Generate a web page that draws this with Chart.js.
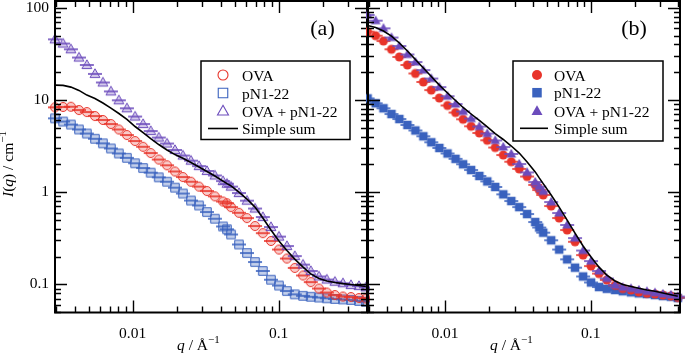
<!DOCTYPE html>
<html>
<head>
<meta charset="utf-8">
<script src="https://cdn.jsdelivr.net/npm/chart.js@4.4.0/dist/chart.umd.min.js"></script>
<style>
  body { margin: 0; background: #fff; }
  #wrap { position: relative; width: 685px; height: 353px; overflow: hidden; background: #fff; }
  canvas { position: absolute; top: 0; }
  #chartA { left: 0; }
  #chartB { left: 366px; }
</style>
</head>
<body>
<div id="wrap">
  <canvas id="chartA" width="370" height="353"></canvas>
  <canvas id="chartB" width="319" height="353"></canvas>
</div>
<script>
// scattering vector q (1/Angstrom)
const q = [0.00294, 0.00334, 0.00378, 0.00429, 0.00486, 0.00552, 0.00626, 0.0071, 0.00805, 0.00914,
  0.0104, 0.0118, 0.0133, 0.0151, 0.0172, 0.0195, 0.0221, 0.0251, 0.0285, 0.0323,
  0.0366, 0.0416, 0.0443, 0.0472, 0.0535, 0.0607, 0.0689, 0.078, 0.0886, 0.1005,
  0.114, 0.129, 0.147, 0.166, 0.189, 0.214, 0.243, 0.276, 0.313, 0.355, 0.396];

// panel (a)
const ovaA = [8.33, 8.40, 8.46, 7.79, 7.41, 6.70, 6.07, 5.49, 4.79, 4.17,
  3.59, 3.11, 2.66, 2.26, 1.96, 1.68, 1.46, 1.30, 1.15, 1.03,
  0.902, 0.792, 0.758, 0.690, 0.598, 0.524, 0.430, 0.360, 0.296, 0.239,
  0.191, 0.151, 0.125, 0.106, 0.0903, 0.0817, 0.0767, 0.0739, 0.0730, 0.0712, 0.0703];
const pnA = [6.33, 5.84, 5.42, 4.79, 4.33, 3.80, 3.39, 2.98, 2.63, 2.36,
  2.06, 1.83, 1.63, 1.45, 1.30, 1.12, 0.968, 0.813, 0.718, 0.610,
  0.516, 0.425, 0.396, 0.348, 0.271, 0.219, 0.175, 0.140, 0.1125, 0.0973,
  0.0848, 0.0781, 0.0752, 0.0734, 0.0721, 0.0707, 0.0695, 0.0688, 0.0678, 0.0661, 0.0649];
const mixA = [45.5, 41.0, 35.5, 28.9, 24.0, 19.2, 15.5, 12.4, 9.93, 8.13,
  6.62, 5.49, 4.61, 3.92, 3.37, 2.87, 2.50, 2.20, 1.92, 1.70,
  1.52, 1.32, 1.236, 1.15, 0.98, 0.81, 0.665, 0.538, 0.419, 0.330,
  0.261, 0.203, 0.164, 0.140, 0.122, 0.113, 0.107, 0.103, 0.0985, 0.0961, 0.093];
const sumA = [14.5, 14.4, 13.8, 12.7, 11.3, 10.4, 9.27, 8.18, 7.14, 6.15,
  5.16, 4.44, 3.82, 3.29, 2.87, 2.56, 2.33, 2.10, 1.88, 1.68,
  1.50, 1.32, 1.24, 1.17, 1.00, 0.843, 0.690, 0.525, 0.389, 0.296,
  0.233, 0.188, 0.154, 0.130, 0.116, 0.109, 0.105, 0.102, 0.0998, 0.0973, 0.0949];

// panel (b)
const ovaB = [55.1, 49.8, 43.6, 35.5, 29.3, 24.0, 19.4, 15.7, 12.8, 10.5,
  8.72, 7.31, 6.18, 5.19, 4.39, 3.66, 3.05, 2.53, 2.14, 1.79,
  1.48, 1.20, 1.056, 0.933, 0.708, 0.525, 0.389, 0.290, 0.208, 0.158,
  0.131, 0.112, 0.0978, 0.0903, 0.0870, 0.0827, 0.0800, 0.0787, 0.0767, 0.0748, 0.0721];
const pnB = [10.4, 9.21, 8.13, 7.05, 6.22, 5.36, 4.67, 4.04, 3.48, 3.02,
  2.63, 2.30, 2.01, 1.74, 1.50, 1.31, 1.14, 0.948, 0.802, 0.690,
  0.580, 0.475, 0.414, 0.364, 0.301, 0.239, 0.187, 0.152, 0.122, 0.105,
  0.0937, 0.0897, 0.0870, 0.0844, 0.0820, 0.0800, 0.0787, 0.0767, 0.0748, 0.0736, 0.0712];
const mixB = [83.6, 72.5, 59.9, 47.6, 38.5, 31.2, 25.8, 21.1, 17.1, 13.8,
  11.0, 9.05, 7.51, 6.30, 5.16, 4.33, 3.64, 3.09, 2.60, 2.02,
  1.64, 1.29, 1.15, 1.02, 0.783, 0.595, 0.441, 0.318, 0.233, 0.179,
  0.140, 0.116, 0.0985, 0.093, 0.0903, 0.0870, 0.0838, 0.0813, 0.0787, 0.0767, 0.0739];
const sumB = [64.3, 61.1, 56.0, 49.4, 41.5, 34.0, 27.5, 22.2, 18.0, 14.5,
  11.9, 9.88, 8.30, 7.05, 6.00, 5.10, 4.33, 3.73, 3.17, 2.66,
  2.13, 1.66, 1.43, 1.24, 0.933, 0.690, 0.499, 0.360, 0.261, 0.198,
  0.154, 0.126, 0.109, 0.0998, 0.0949, 0.0907, 0.0870, 0.0842, 0.0807, 0.0773, 0.0743];

const seriesNames = ['OVA', 'pN1-22', 'OVA + pN1-22', 'Simple sum'];
const xTickLabels = [0.01, 0.1];
const yTickLabels = [0.1, 1, 10, 100];

const FONT = "'Liberation Serif', 'Times New Roman', serif";
const RED = '#e8342a', BLUE = '#3a62be', PURPLE = '#6c4cbc';
const PALE = { [RED]: 'rgba(232,52,42,0.25)', [BLUE]: 'rgba(58,98,190,0.3)', [PURPLE]: 'rgba(108,76,188,0.3)' };

function shapePath(g, shape, cx, cy, r) {
  g.beginPath();
  if (shape === 'circle') {
    g.arc(cx, cy, r, 0, Math.PI * 2);
  } else if (shape === 'square') {
    g.rect(cx - r * 0.95, cy - r * 0.95, r * 1.9, r * 1.9);
  } else {
    g.moveTo(cx, cy - r * 1.15);
    g.lineTo(cx + r * 1.1, cy + r * 0.8);
    g.lineTo(cx - r * 1.1, cy + r * 0.8);
    g.closePath();
  }
}

// marker with horizontal error bar
function marker(shape, color, filled) {
  const c = document.createElement('canvas');
  c.width = 18; c.height = 14;
  const g = c.getContext('2d');
  shapePath(g, shape, 9, 7, 4.5);
  if (filled) {
    g.fillStyle = color; g.fill();
  } else {
    g.fillStyle = PALE[color]; g.fill();
    g.strokeStyle = color; g.lineWidth = 1; g.stroke();
  }
  g.strokeStyle = color; g.lineWidth = 1.6;
  g.beginPath(); g.moveTo(2, 7); g.lineTo(16, 7); g.stroke();
  return c;
}

const pts = vals => q.map((v, i) => ({ x: v, y: vals[i] }));

function makeDatasets(ova, pn, mix, sum, filled) {
  const sc = (label, vals, shape, color, order) => ({
    label, data: pts(vals), shape, color, order, clip: false,
    pointStyle: marker(shape, color, filled), pointRadius: 5, showLine: false
  });
  return [
    sc(seriesNames[0], ova, 'circle', RED, 3),
    sc(seriesNames[1], pn, 'square', BLUE, 4),
    sc(seriesNames[2], mix, 'triangle', PURPLE, 2),
    { label: seriesNames[3], data: pts(sum), shape: 'line', color: '#000', order: 1,
      showLine: true, pointRadius: 0, borderColor: '#000', borderWidth: 1.6, clip: false }
  ];
}

function logTicks(min, max) {
  const out = [];
  for (let e = Math.floor(Math.log10(min)); e <= Math.ceil(Math.log10(max)); e++) {
    for (let m = 1; m <= 9; m++) {
      const v = m * Math.pow(10, e);
      if (v >= min * 0.999 && v <= max * 1.001) out.push([v, m === 1]);
    }
  }
  return out;
}

const framePlugin = {
  id: 'frame',
  afterDraw(chart) {
    const { ctx, chartArea: a, scales: { x, y } } = chart;
    ctx.save();
    ctx.strokeStyle = '#000';
    ctx.lineWidth = 1.4;
    ctx.beginPath();
    for (const [v, major] of logTicks(x.min, x.max)) {
      const px = Math.round(x.getPixelForValue(v)) + 0.5, len = major ? 12 : 6;
      ctx.moveTo(px, a.bottom); ctx.lineTo(px, a.bottom - len);
      ctx.moveTo(px, a.top); ctx.lineTo(px, a.top + len);
    }
    for (const [v, major] of logTicks(y.min, y.max)) {
      const py = Math.round(y.getPixelForValue(v)) + 0.5, len = major ? 12 : 6;
      ctx.moveTo(a.left, py); ctx.lineTo(a.left + len, py);
      ctx.moveTo(a.right, py); ctx.lineTo(a.right - len, py);
    }
    ctx.stroke();
    ctx.lineWidth = 2;
    ctx.strokeRect(a.left, a.top, a.right - a.left, a.bottom - a.top);
    ctx.restore();
  }
};

function richText(ctx, parts, x, y) {
  let cx = x;
  for (const p of parts) {
    ctx.font = (p.it ? 'italic ' : '') + (p.sup ? '11px ' : '15.5px ') + FONT;
    ctx.fillText(p.t, cx, y - (p.sup ? 7 : 0));
    cx += ctx.measureText(p.t).width;
  }
}

const annotPlugin = {
  id: 'annot',
  afterDraw(chart, args, o) {
    const ctx = chart.ctx;
    ctx.save();
    ctx.fillStyle = '#000';
    ctx.textBaseline = 'alphabetic';
    ctx.textAlign = 'left';
    // x title
    richText(ctx, [{ t: 'q', it: true }, { t: ' / Å' }, { t: '−1', sup: true }], o.xTitleX, 350);
    // y title
    if (o.yTitle) {
      ctx.save();
      ctx.translate(13, 197);
      ctx.rotate(-Math.PI / 2);
      richText(ctx, [{ t: 'I', it: true }, { t: '(' }, { t: 'q', it: true }, { t: ') / cm' }, { t: '−1', sup: true }], 0, 0);
      ctx.restore();
    }
    // panel label
    ctx.font = '22px ' + FONT;
    ctx.textAlign = 'center';
    ctx.fillText(o.tag, o.tagX, 35);
    // legend box
    const L = o.legend;
    ctx.lineWidth = 1.5;
    ctx.strokeStyle = '#000';
    ctx.strokeRect(L.x, L.y, L.w, L.h);
    ctx.textAlign = 'left';
    chart.data.datasets.forEach((ds, i) => {
      const ry = L.rows[i];
      if (ds.shape === 'line') {
        ctx.strokeStyle = '#000'; ctx.lineWidth = 1.6;
        ctx.beginPath(); ctx.moveTo(L.lineX0, ry); ctx.lineTo(L.lineX1, ry); ctx.stroke();
      } else {
        shapePath(ctx, ds.shape, L.mx, ry, 5);
        if (o.filled) { ctx.fillStyle = ds.color; ctx.fill(); }
        else { ctx.strokeStyle = ds.color; ctx.lineWidth = 1.1; ctx.stroke(); }
      }
      ctx.fillStyle = '#000';
      ctx.font = '15.5px ' + FONT;
      ctx.fillText(ds.label, L.tx, ry + 5.5);
    });
    ctx.restore();
  }
};

function tickCb(list) {
  return function (v) {
    const hit = list.find(t => Math.abs(v - t) / t < 1e-6);
    return hit === undefined ? null : String(hit);
  };
}

// fixed axis sizes, no label overflow padding
function fixSize(w, h) {
  return s => {
    if (w !== null) s.width = w;
    if (h !== null) s.height = h;
    s.paddingTop = s.paddingBottom = s.paddingLeft = s.paddingRight = 0;
  };
}

function buildChart(id, ds, cfg) {
  return new Chart(document.getElementById(id), {
    type: 'scatter',
    data: { datasets: ds },
    plugins: [framePlugin, annotPlugin],
    options: {
      responsive: false,
      animation: false,
      events: [],
      layout: { padding: cfg.padding, autoPadding: false },
      scales: {
        x: {
          type: 'logarithmic', min: cfg.xmin, max: cfg.xmax,
          grid: { display: false, drawTicks: false }, border: { display: false },
          ticks: { autoSkip: false, maxRotation: 0, padding: 12, color: '#000',
                   font: { family: FONT, size: 15.5 }, callback: tickCb(xTickLabels) },
          afterFit: fixSize(null, 40.5)
        },
        y: {
          type: 'logarithmic', min: 0.0496, max: 118.5, display: cfg.showY,
          grid: { display: false, drawTicks: false }, border: { display: false },
          ticks: { autoSkip: false, padding: 6, color: '#000',
                   font: { family: FONT, size: 15.5 }, callback: tickCb(yTickLabels) },
          afterFit: fixSize(cfg.yWidth, null)
        }
      },
      plugins: {
        legend: { display: false },
        tooltip: { enabled: false },
        annot: cfg.annot
      }
    }
  });
}

buildChart('chartA', makeDatasets(ovaA, pnA, mixA, sumA, false), {
  padding: { left: 0, right: 3, top: 1, bottom: 0 },
  xmin: 0.00294, xmax: 0.403, showY: true, yWidth: 55,
  annot: {
    xTitleX: 177, yTitle: true, tag: '(a)', tagX: 322.5, filled: false,
    legend: { x: 201, y: 61, w: 149, h: 78.5, rows: [75, 93, 111, 128.5], mx: 223, lineX0: 208, lineX1: 238, tx: 242 }
  }
});

buildChart('chartB', makeDatasets(ovaB, pnB, mixB, sumB, true), {
  padding: { left: 2, right: 5, top: 1, bottom: 0 },
  xmin: 0.00296, xmax: 0.41, showY: false, yWidth: 0,
  annot: {
    xTitleX: 490 - 366, yTitle: false, tag: '(b)', tagX: 634 - 366, filled: true,
    legend: { x: 513 - 366, y: 61, w: 150, h: 80, rows: [75, 92.7, 111, 128.3], mx: 537 - 366, lineX0: 520 - 366, lineX1: 548 - 366, tx: 554 - 366 }
  }
});
</script>
</body>
</html>
